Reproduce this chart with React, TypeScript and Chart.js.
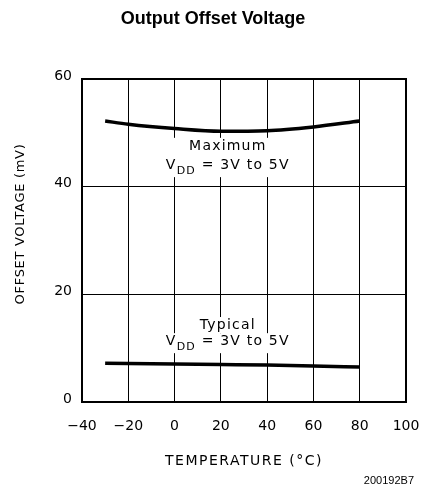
import React, { useEffect, useRef } from "react";
import { Chart, registerables } from "chart.js";

Chart.register(...registerables);

const TITLE = "Output Offset Voltage";
const X_TITLE = "TEMPERATURE (°C)";
const Y_TITLE = "OFFSET VOLTAGE (mV)";
const FOOTNOTE = "200192B7";

const temperatures = [-30, -20, 0, 20, 40, 60, 80];
const maximumValues = [52.2, 51.6, 50.8, 50.3, 50.4, 51.1, 52.2];
const typicalValues = [7.2, 7.15, 7.05, 6.95, 6.85, 6.7, 6.5];

const xTicks = [-40, -20, 0, 20, 40, 60, 80, 100];
const yTicks = [0, 20, 40, 60];

const maxLabel = ["Maximum", "V_DD = 3V to 5V"];
const typLabel = ["Typical", "V_DD = 3V to 5V"];

const FONT = "'DejaVu Sans', sans-serif";

function drawLabel(
  ctx: CanvasRenderingContext2D,
  lines: string[],
  cx: number,
  y1: number,
  y2: number,
  fullBox: boolean
) {
  ctx.save();
  (ctx as any).letterSpacing = "1.2px";
  ctx.font = `14px ${FONT}`;
  ctx.textBaseline = "middle";
  ctx.textAlign = "left";
  const w1 = ctx.measureText(lines[0]).width;
  const parts = lines[1].split("_");
  const main = parts[0];
  const rest = parts[1];
  const sub = rest.slice(0, 2);
  const tail = rest.slice(2);
  const wMain = ctx.measureText(main).width;
  const wTail = ctx.measureText(tail).width;
  ctx.font = `11px ${FONT}`;
  const wSub = ctx.measureText(sub).width;
  const total = wMain + wSub + wTail;
  const x0 = cx - total / 2;

  ctx.fillStyle = "#fff";
  if (fullBox) {
    ctx.fillRect(x0 - 3, y1 - 9, total + 6, y2 - y1 + 21);
  } else {
    ctx.fillRect(cx - w1 / 2 - 2, y1 - 8, w1 + 4, 16);
    ctx.fillRect(x0 - 2, y2 - 8, total + 4, 20);
  }
  ctx.fillStyle = "#000";
  ctx.font = `14px ${FONT}`;
  ctx.fillText(lines[0], cx - w1 / 2, y1);
  let x = x0;
  ctx.fillText(main, x, y2);
  x += wMain;
  ctx.font = `11px ${FONT}`;
  ctx.fillText(sub, x, y2 + 6);
  x += wSub;
  ctx.font = `14px ${FONT}`;
  ctx.fillText(tail, x, y2);
  ctx.restore();
}

const decorPlugin = {
  id: "decor",
  afterDraw(chart: any) {
    const ctx = chart.ctx as CanvasRenderingContext2D;
    const { left, right, top, bottom } = chart.chartArea;
    const xs = chart.scales.x;
    const ys = chart.scales.y;
    ctx.save();
    ctx.strokeStyle = "#000";
    ctx.lineWidth = 2;
    ctx.strokeRect(left, top, right - left, bottom - top);
    ctx.restore();

    drawLabel(ctx, maxLabel, xs.getPixelForValue(23), ys.getPixelForValue(47.4), ys.getPixelForValue(44.0), true);
    drawLabel(ctx, typLabel, xs.getPixelForValue(23), ys.getPixelForValue(14.3), ys.getPixelForValue(11.3), false);

    ctx.save();
    ctx.fillStyle = "#000";
    ctx.textBaseline = "middle";
    ctx.textAlign = "center";
    ctx.font = `bold 18px 'Liberation Sans', Arial, sans-serif`;
    ctx.fillText(TITLE, 213, 19);

    ctx.textAlign = "left";
    (ctx as any).letterSpacing = "1.5px";
    ctx.font = `14px ${FONT}`;
    const wx = ctx.measureText(X_TITLE).width;
    ctx.fillText(X_TITLE, (left + right) / 2 - wx / 2, 461);

    (ctx as any).letterSpacing = "0.7px";
    ctx.font = `13px ${FONT}`;
    const wy = ctx.measureText(Y_TITLE).width;
    ctx.save();
    ctx.translate(21, 224);
    ctx.rotate(-Math.PI / 2);
    ctx.fillText(Y_TITLE, -wy / 2, 0);
    ctx.restore();

    (ctx as any).letterSpacing = "0px";
    ctx.textAlign = "right";
    ctx.font = `11px 'Liberation Sans', Arial, sans-serif`;
    ctx.fillText(FOOTNOTE, 414, 481);
    ctx.restore();
  },
};

export default function App() {
  const ref = useRef<HTMLCanvasElement | null>(null);
  useEffect(() => {
    if (!ref.current) return;
    const chart = new Chart(ref.current, {
      type: "line",
      data: {
        datasets: [
          {
            label: "Maximum",
            data: temperatures.map((t, i) => ({ x: t, y: maximumValues[i] })),
            borderColor: "#000",
            borderWidth: 3.5,
            pointRadius: 0,
            tension: 0.4,
            cubicInterpolationMode: "monotone",
          },
          {
            label: "Typical",
            data: temperatures.map((t, i) => ({ x: t, y: typicalValues[i] })),
            borderColor: "#000",
            borderWidth: 3.5,
            pointRadius: 0,
            tension: 0.4,
            cubicInterpolationMode: "monotone",
          },
        ],
      },
      plugins: [decorPlugin],
      options: {
        animation: false,
        responsive: false,
        events: [],
        layout: { padding: { left: 0, top: 79, right: 16, bottom: 0 } },
        plugins: { legend: { display: false }, tooltip: { enabled: false }, title: { display: false } },
        scales: {
          x: {
            type: "linear",
            min: -40,
            max: 100,
            afterBuildTicks: (s: any) => {
              s.ticks = xTicks.map((v) => ({ value: v }));
            },
            afterFit: (s: any) => {
              s.height = 92;
              s.paddingLeft = 0;
              s.paddingRight = 0;
            },
            grid: { color: "#000", lineWidth: 1, drawTicks: false },
            border: { display: false },
            ticks: {
              color: "#000",
              font: { family: FONT, size: 14 },
              padding: 16,
              maxRotation: 0,
              autoSkip: false,
              callback: (v: any) => String(v).replace("-", "−"),
            },
          },
          y: {
            type: "linear",
            min: 0,
            max: 60,
            afterBuildTicks: (s: any) => {
              s.ticks = yTicks.map((v) => ({ value: v }));
            },
            afterFit: (s: any) => {
              s.width = 82;
              s.paddingTop = 0;
              s.paddingBottom = 0;
            },
            grid: { color: "#000", lineWidth: 1, drawTicks: false },
            border: { display: false },
            ticks: {
              color: "#000",
              font: { family: FONT, size: 14 },
              padding: 10,
              labelOffset: -3,
            },
          },
        },
      },
    } as any);
    return () => chart.destroy();
  }, []);
  return (
    <div style={{ position: "fixed", left: 0, top: 0, width: 422, height: 494, background: "#fff" }}>
      <canvas ref={ref} width={422} height={494} style={{ width: 422, height: 494 }} />
    </div>
  );
}
